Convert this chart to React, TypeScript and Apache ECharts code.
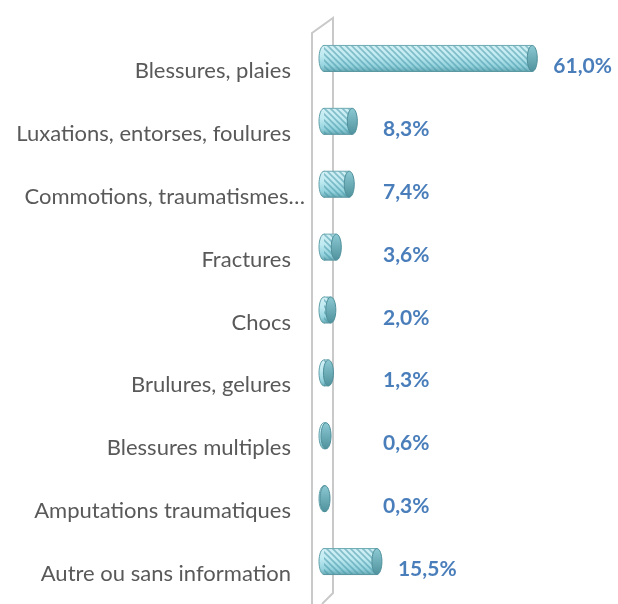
import React, { useEffect, useRef } from "react";
import * as echarts from "echarts";

const categories = [
  "Blessures, plaies",
  "Luxations, entorses, foulures",
  "Commotions, traumatismes…",
  "Fractures",
  "Chocs",
  "Brulures, gelures",
  "Blessures multiples",
  "Amputations traumatiques",
  "Autre ou sans information",
];
const values = [61.0, 8.3, 7.4, 3.6, 2.0, 1.3, 0.6, 0.3, 15.5];
const valueLabels = ["61,0%", "8,3%", "7,4%", "3,6%", "2,0%", "1,3%", "0,6%", "0,3%", "15,5%"];

function makeStripes() {
  const c = document.createElement("canvas");
  c.width = 6;
  c.height = 6;
  const ctx = c.getContext("2d")!;
  ctx.strokeStyle = "rgba(70,150,165,0.55)";
  ctx.lineWidth = 1.6;
  ctx.beginPath();
  ctx.moveTo(-1, -1);
  ctx.lineTo(7, 7);
  ctx.moveTo(5, -1);
  ctx.lineTo(7, 1);
  ctx.moveTo(-1, 5);
  ctx.lineTo(1, 7);
  ctx.stroke();
  return c.toDataURL();
}

export default function App() {
  const ref = useRef<HTMLDivElement>(null);
  useEffect(() => {
    if (!ref.current) return;
    const chart = echarts.init(ref.current, null, { renderer: "svg" });
    const stripes = makeStripes();
    const bodyGrad = {
      type: "linear", x: 0, y: 0, x2: 0, y2: 1,
      colorStops: [
        { offset: 0, color: "#d2f0f5" },
        { offset: 0.4, color: "#bfeaf1" },
        { offset: 0.8, color: "#93d2dd" },
        { offset: 1, color: "#6aaab5" },
      ],
    };
    const capGrad = {
      type: "linear", x: 0, y: 0, x2: 0, y2: 1,
      colorStops: [
        { offset: 0, color: "#8cc9d3" },
        { offset: 1, color: "#4f929d" },
      ],
    };
    const labelFont = { color: "#595959", fontSize: 22, fontFamily: "Lato, sans-serif" };
    const data = values.map((v, i) => [v, i]);
    chart.setOption({
      animation: false,
      grid: { left: 324, top: 38, height: 571.5, width: 239 },
      xAxis: { type: "value", min: 0, max: 70, show: false },
      yAxis: {
        type: "category",
        data: categories,
        inverse: true,
        axisLine: { show: false },
        axisTick: { show: false },
        axisLabel: {
          ...labelFont,
          margin: 33,
          formatter: (v: string) => (v.endsWith("…") ? `{e|${v}}` : v),
          rich: { e: { ...labelFont, padding: [0, -14, 0, 0] } },
        },
      },
      graphic: [
        {
          type: "polyline",
          shape: { points: [[312, 604], [312, 33], [333, 18], [333, 593], [322, 604]] },
          style: { stroke: "#c9c9c9", lineWidth: 2, fill: "none" },
          silent: true,
        },
      ],
      series: [
        {
          type: "custom",
          encode: { x: 0, y: 1 },
          data,
          renderItem: (params: any, api: any) => {
            const idx = api.value(1);
            const v = api.value(0);
            const s = api.coord([0, idx]);
            const e = api.coord([v, idx]);
            const h = 26;
            const rx = 5;
            const cy = s[1] - 11;
            const y0 = cy - h / 2;
            const w = Math.max(e[0] - s[0], 0.5);
            const lx = Math.max(e[0] + rx + 16, s[0] + 59);
            return {
              type: "group",
              children: [
                {
                  type: "ellipse",
                  shape: { cx: s[0], cy, rx, ry: h / 2 },
                  style: { fill: bodyGrad, stroke: "#5f9ea8", lineWidth: 1 },
                },
                {
                  type: "rect",
                  shape: { x: s[0], y: y0, width: w, height: h },
                  style: { fill: bodyGrad },
                },
                {
                  type: "rect",
                  shape: { x: s[0], y: y0, width: w, height: h },
                  style: {
                    fill: { image: stripes, repeat: "repeat", imageWidth: 6, imageHeight: 6 },
                  },
                },
                {
                  type: "line",
                  shape: { x1: s[0], y1: y0, x2: s[0] + w, y2: y0 },
                  style: { stroke: "#6eaab4", lineWidth: 1 },
                },
                {
                  type: "line",
                  shape: { x1: s[0], y1: y0 + h, x2: s[0] + w, y2: y0 + h },
                  style: { stroke: "#5a96a0", lineWidth: 1 },
                },
                {
                  type: "ellipse",
                  shape: { cx: s[0] + w, cy, rx, ry: h / 2 },
                  style: { fill: capGrad, stroke: "#4f8f9a", lineWidth: 1 },
                },
                {
                  type: "text",
                  x: lx,
                  y: cy + 6,
                  style: {
                    text: valueLabels[idx],
                    fill: "#4a7ebb",
                    font: "bold 21px Lato, sans-serif",
                    align: "left",
                    verticalAlign: "middle",
                  },
                },
              ],
            };
          },
        },
      ],
    });
    return () => chart.dispose();
  }, []);
  return (
    <div
      ref={ref}
      style={{ position: "fixed", left: 0, top: 0, width: 618, height: 604 }}
    />
  );
}
